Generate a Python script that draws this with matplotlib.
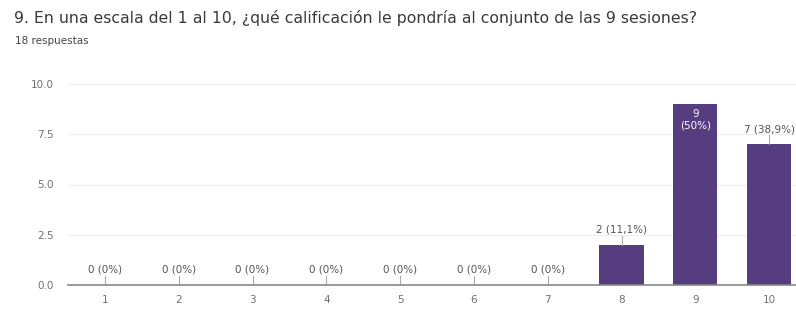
import matplotlib
matplotlib.use("Agg")
import matplotlib.pyplot as plt

CATEGORIES = ["1", "2", "3", "4", "5", "6", "7", "8", "9", "10"]
COUNTS = [0, 0, 0, 0, 0, 0, 0, 2, 9, 7]
LABELS = ["0 (0%)", "0 (0%)", "0 (0%)", "0 (0%)", "0 (0%)", "0 (0%)", "0 (0%)",
          "2 (11,1%)", "9\n(50%)", "7 (38,9%)"]
YTICKS = [0.0, 2.5, 5.0, 7.5, 10.0]

BAR = "#553d80"
GREY = "#707070"

fig = plt.figure(figsize=(7.96, 3.09), dpi=100)
ax = fig.add_axes([68 / 796, 1 - 285 / 309, 738 / 796, 201 / 309])

x = list(range(len(CATEGORIES)))
ax.bar(x, COUNTS, width=0.6, color=BAR, zorder=3)
ax.set_xlim(-0.5, len(CATEGORIES) - 0.5)
ax.set_ylim(0, 10)
ax.set_yticks(YTICKS)
ax.set_yticklabels([f"{v:.1f}" for v in YTICKS])
ax.set_xticks(x)
ax.set_xticklabels(CATEGORIES)
ax.tick_params(length=0, labelsize=7.5, colors=GREY)
ax.tick_params(axis="y", pad=10)
ax.tick_params(axis="x", pad=7)
ax.grid(axis="y", color="#eeeeee", linewidth=0.8, zorder=0)
for s in ["top", "right", "left"]:
    ax.spines[s].set_visible(False)
ax.spines["bottom"].set_color("#888888")
ax.spines["bottom"].set_linewidth(1.2)
ax.spines["bottom"].set_zorder(4)

for xi, c, lab in zip(x, COUNTS, LABELS):
    if c == max(COUNTS):
        ax.text(xi, c - 0.25, lab, ha="center", va="top", fontsize=7.5,
                color="white", zorder=5, linespacing=1.2)
    else:
        ax.plot([xi, xi], [c, c + 0.45], color="#aaaaaa", lw=0.8, zorder=4)
        ax.text(xi, c + 0.5, lab, ha="center", va="bottom", fontsize=7.5,
                color="#555555", zorder=5)

fig.text(14 / 796, 1 - 18 / 309,
         "9. En una escala del 1 al 10, ¿qué calificación le pondría al conjunto de las 9 sesiones?",
         fontsize=11.3, color="#3a3a3a", va="center", ha="left")
fig.text(15 / 796, 1 - 41 / 309, "18 respuestas", fontsize=7.5,
         color="#444444", va="center", ha="left")

fig.savefig("out.png", dpi=100, facecolor="white")
